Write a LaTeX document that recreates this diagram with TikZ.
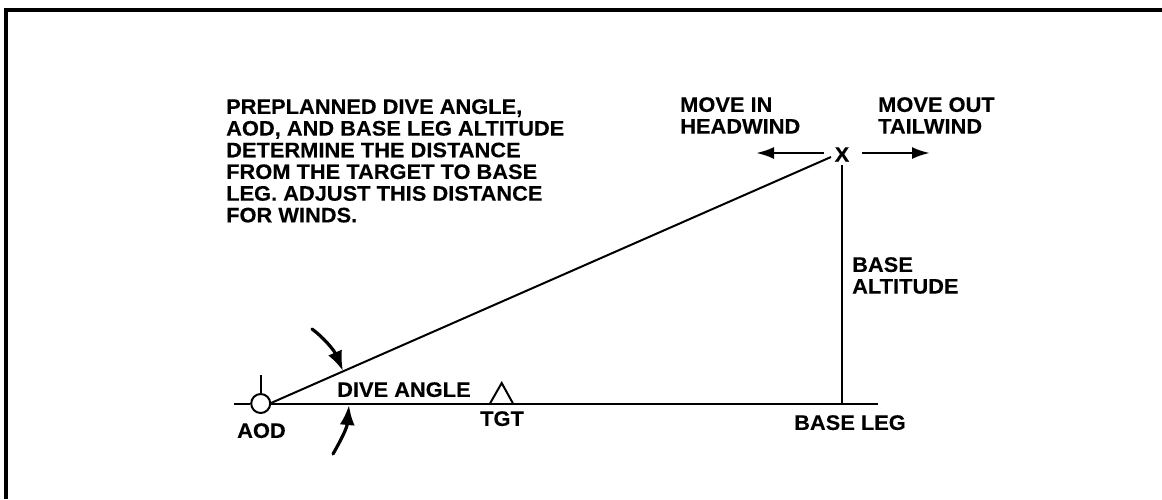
\documentclass[tikz,border=0pt]{standalone}
\usepackage{fontspec}
\setmainfont{Liberation Sans}[BoldFeatures={FakeBold=0.2,FakeStretch=1.04}]
\usetikzlibrary{arrows.meta}
\tikzset{
  lbl/.style={font=\fontsize{21}{21.7}\selectfont\bfseries, inner sep=0pt, align=left, anchor=north west},
  ln/.style={line width=2pt, black},
  arr/.style={line width=3.2pt, line cap=round, black, -{Latex[length=20pt,width=15pt]}},
  harr/.style={line width=2.6pt, black, -{Latex[length=18pt,width=12pt]}},
}
\begin{document}
\begin{tikzpicture}[x=1pt,y=-1pt]
\useasboundingbox (0,0) rectangle (1162,499);
\fill[white] (0,0) rectangle (1162,499);
\draw[line width=4pt] (6,499) -- (6,10) -- (1162,10);
\coordinate (L) at (234,403.5);
\coordinate (R) at (878,403.5);
\node[circle,draw,line width=2pt,fill=white,minimum size=19pt,inner sep=0pt] (aod) at (260.7,403.5) {};
\draw[ln] (L) -- (aod.west) (aod.east) -- (R);
\coordinate (tick) at (260.7,375);
\draw[ln] (tick) -- (aod.north);
\node[font=\fontsize{21}{21}\selectfont\bfseries,inner sep=0pt] (x) at (842,154.5) {X};
\coordinate (s) at (271,403);
\coordinate (slopeend) at (831,157);
\draw[ln] (s) -- (slopeend);
\coordinate (bl) at (842,403.5);
\coordinate (bt) at (842,165);
\draw[ln] (bt) -- (bl);
\node[lbl] (t1) at (226,99) {PREPLANNED DIVE ANGLE,\\AOD, AND BASE LEG ALTITUDE\\DETERMINE THE DISTANCE\\FROM THE TARGET TO BASE\\LEG. ADJUST THIS DISTANCE\\FOR WINDS.};
\node[lbl] (t2) at (680,97) {MOVE IN\\HEADWIND};
\node[lbl] (t3) at (878,97) {MOVE OUT\\TAILWIND};
\node[lbl] (t4) at (852,257) {BASE\\ALTITUDE};
\node[lbl] (t5) at (337,382) {DIVE ANGLE};
\node[lbl] (t6) at (480,411) {TGT};
\node[lbl] (t7) at (794,415) {BASE LEG};
\node[lbl] (t8) at (237,423) {AOD};
\coordinate (a1) at (824,153);
\coordinate (a2) at (756,153);
\coordinate (a3) at (862,153);
\coordinate (a4) at (930,153);
\draw[harr] (a1) -- (a2);
\draw[harr] (a3) -- (a4);
\coordinate (c1) at (312,329);
\coordinate (c2) at (343,371);
\draw[arr] (c1) .. controls (323,337) and (334,350) .. (c2);
\coordinate (d1) at (333,454);
\coordinate (d2) at (349,405);
\draw[arr] (d1) .. controls (341,440) and (347,428) .. (d2);
\draw[line width=2pt] (490,403.5) -- (501.7,383) -- (513,403.5);
\end{tikzpicture}
\end{document}
